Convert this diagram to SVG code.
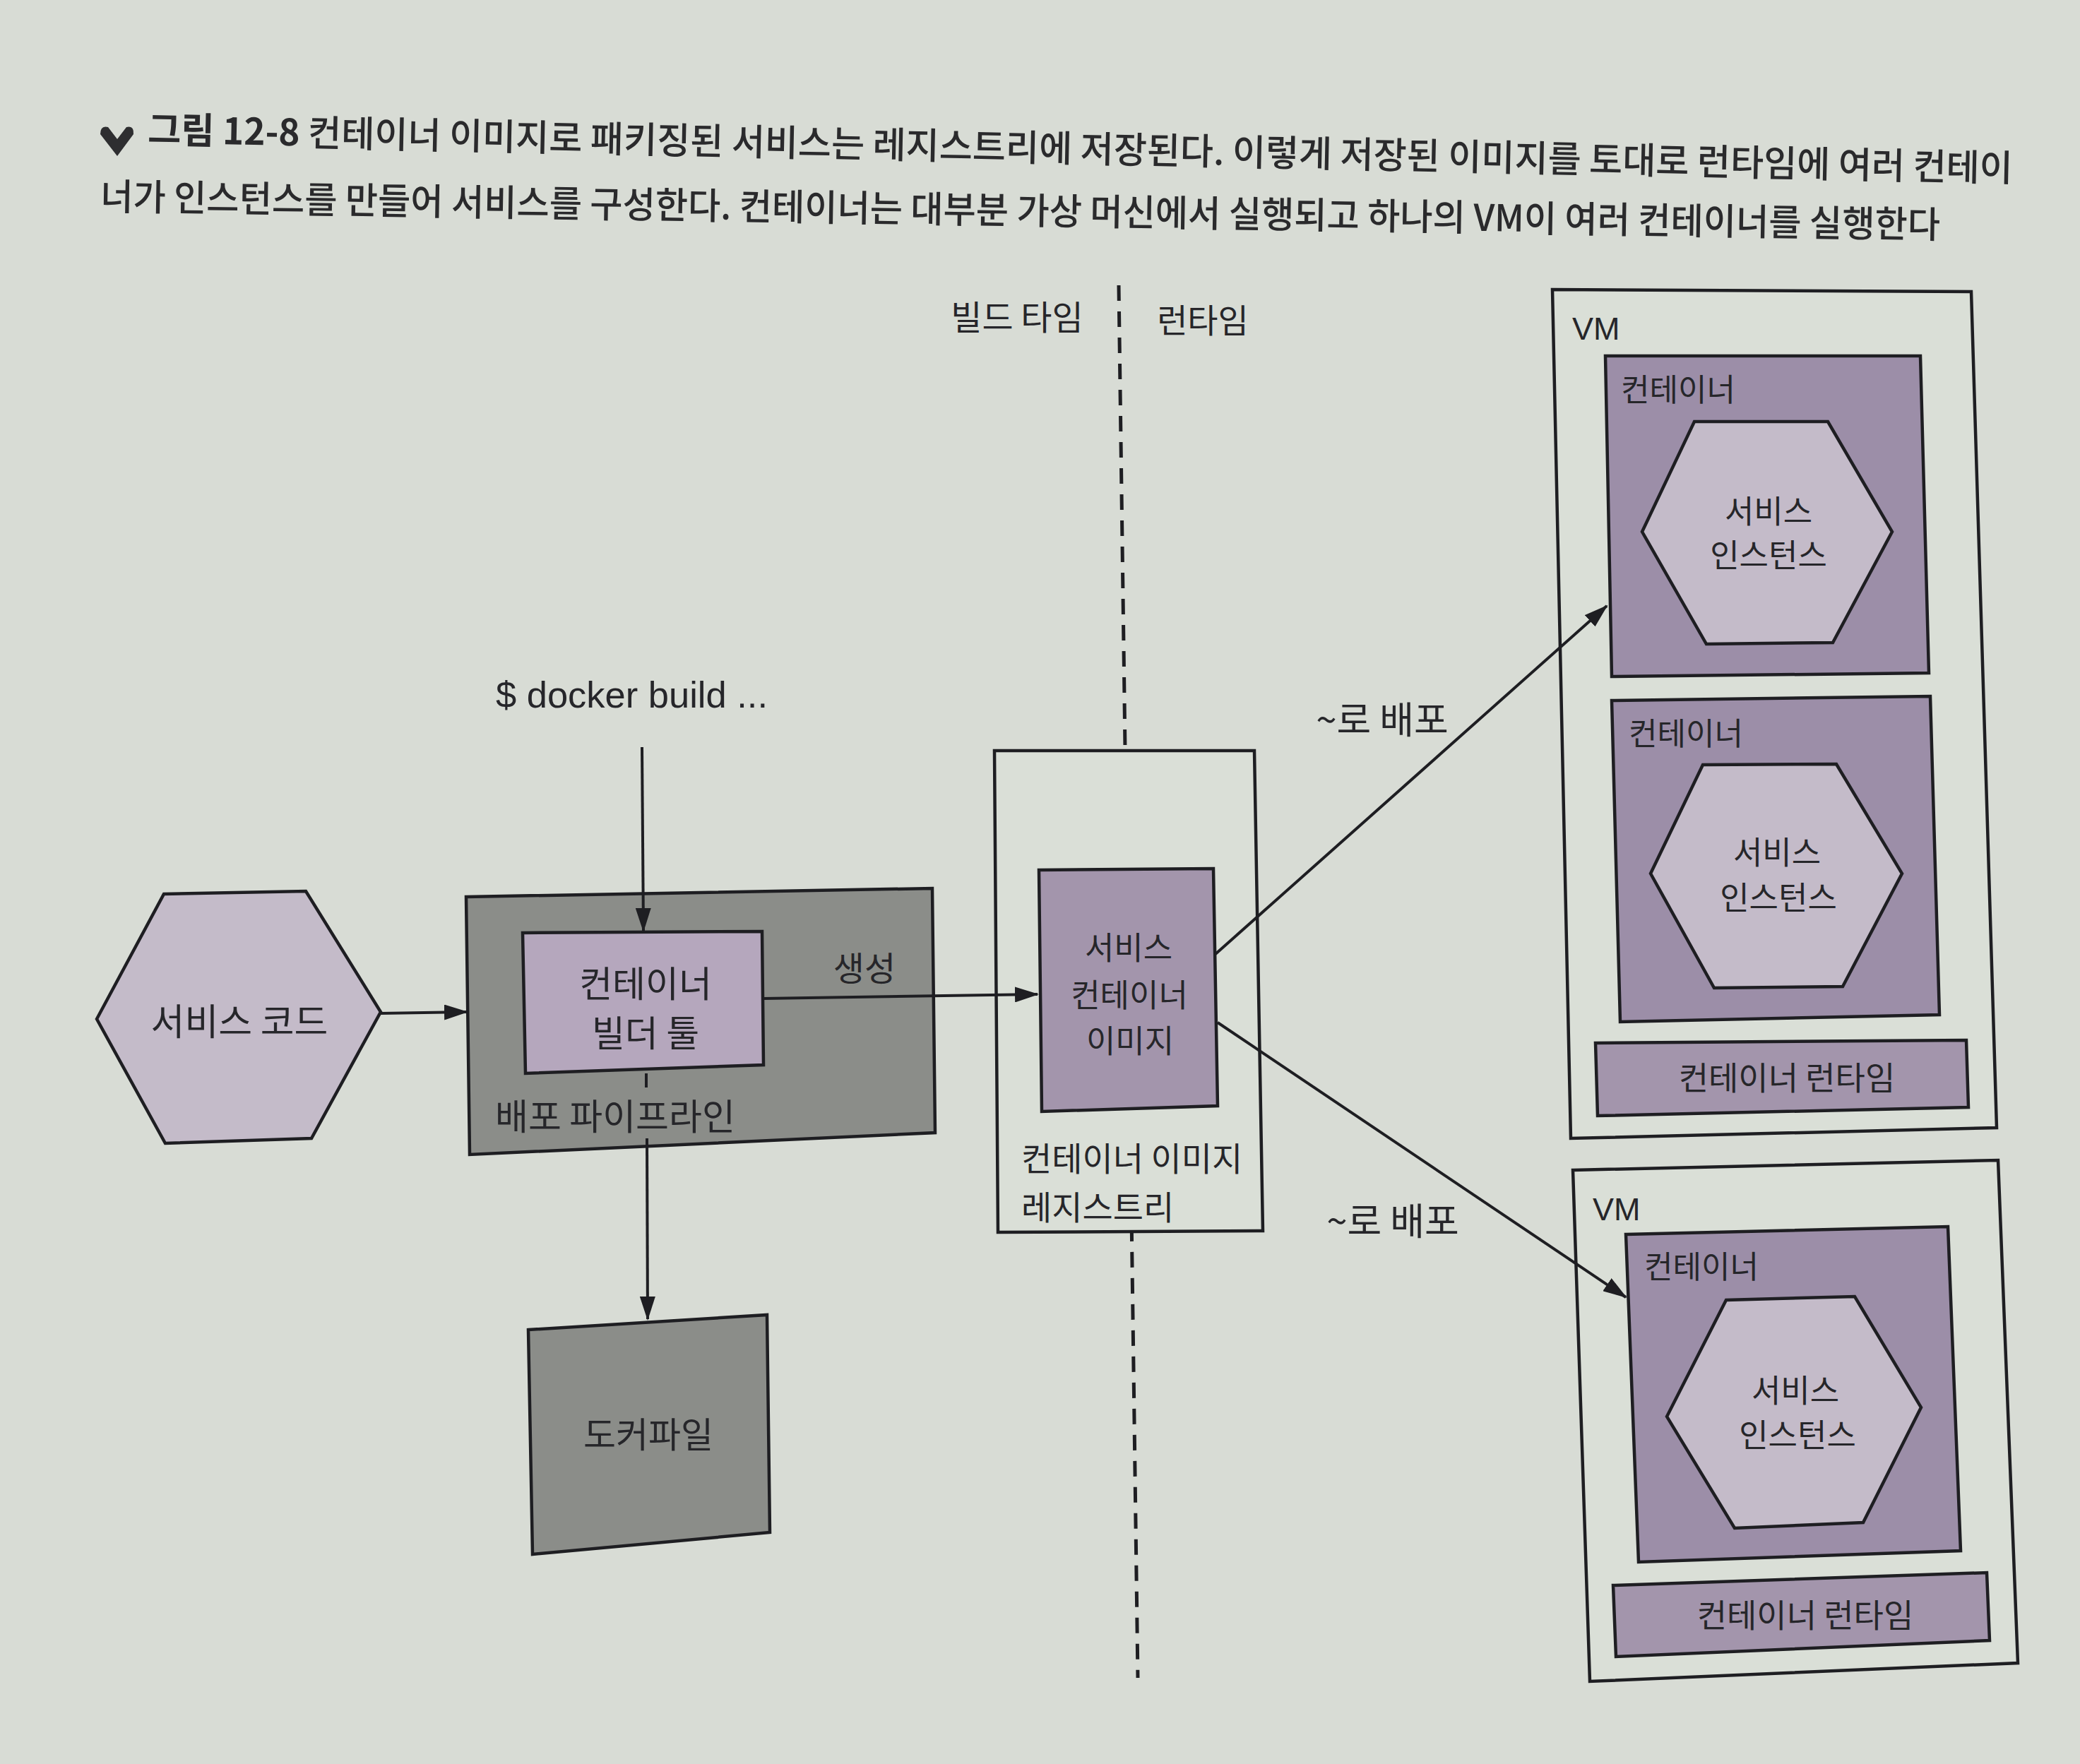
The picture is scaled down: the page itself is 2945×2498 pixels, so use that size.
<svg xmlns="http://www.w3.org/2000/svg" width="2945" height="2498" viewBox="0 0 2945 2498">
<defs>
<marker id="arr" markerUnits="userSpaceOnUse" markerWidth="34" markerHeight="22" refX="32" refY="11" orient="auto">
<path d="M0,0 L34,11 L0,22 Z" fill="#1e1e22"/>
</marker>
<style>
.t{font-family:"Noto Sans CJK KR","Noto Sans",sans-serif;fill:#26262a;}
.c{text-anchor:middle;dominant-baseline:central;}
.l{dominant-baseline:central;}
.cap{font-family:"Noto Sans CJK KR","Noto Sans",sans-serif;fill:#2a2a2c;font-size:52px;font-weight:500;}
.box{stroke:#1e1e22;stroke-width:4.5;stroke-linejoin:miter;}
.gray{fill:#8b8d89;}
.pale{fill:#dadfd7;}
.purple{fill:#9c8ea8;}
.lav{fill:#b5a7bd;}
.hex{fill:#c4bbc9;}
.img{fill:#a395ac;}
.conn{stroke:#1e1e22;stroke-width:4;fill:none;}
</style>
</defs>
<rect width="2945" height="2498" fill="#d8dcd5"/>

<g id="caption">
<path d="M142,190 Q142,177 153,180 L166,197 L179,180 Q190,177 189,190 L166,221 Z" fill="#2e2e30"/>
<text class="cap" x="209" y="202" transform="rotate(1.19 209 202)" textLength="2641" lengthAdjust="spacingAndGlyphs"><tspan font-weight="700">그림 12-8</tspan> 컨테이너 이미지로 패키징된 서비스는 레지스트리에 저장된다. 이렇게 저장된 이미지를 토대로 런타임에 여러 컨테이</text>
<text class="cap" x="142" y="297" transform="rotate(0.88 142 297)" textLength="2605" lengthAdjust="spacingAndGlyphs">너가 인스턴스를 만들어 서비스를 구성한다. 컨테이너는 대부분 가상 머신에서 실행되고 하나의 VM이 여러 컨테이너를 실행한다</text>
</g>

<g id="separator">
<line x1="1584" y1="404" x2="1611" y2="2376" stroke="#1e1e22" stroke-width="5" stroke-dasharray="22 15"/>
<text class="t c" x="1440" y="446" style="font-size:48px">빌드 타임</text>
<text class="t c" x="1703" y="450" style="font-size:47px">런타임</text>
</g>

<g id="docker-build-cmd">
<text x="702" y="1002" font-family="'Liberation Sans',Arial,sans-serif" font-size="52" fill="#26262a" textLength="385" lengthAdjust="spacingAndGlyphs">$ docker  build  ...</text>
</g>

<g id="service-code">
<polygon class="box hex" points="137,1443 232,1266 433,1262 539,1433 441,1612 234,1619"/>
<text class="t c" x="339" y="1443" style="font-size:52px">서비스 코드</text>
</g>

<g id="deploy-pipeline">
<polygon class="box gray" points="660,1270 1320,1258 1324,1604 665,1635"/>
<text class="t l" x="701" y="1578" style="font-size:51px">배포 파이프라인</text>
</g>

<g id="builder-tool">
<polygon class="box lav" points="740,1321 1079,1319 1081,1508 744,1520"/>
<text class="t c" x="914" y="1390" style="font-size:51px">컨테이너</text>
<text class="t c" x="914" y="1460" style="font-size:51px">빌더 툴</text>
</g>

<g id="dockerfile">
<polygon class="box gray" points="748,1883 1086,1862 1090,2170 754,2201"/>
<text class="t c" x="918" y="2028" style="font-size:50px">도커파일</text>
</g>

<g id="registry">
<polygon class="box pale" points="1408,1063 1776,1063 1788,1743 1413,1745"/>
<text class="t l" x="1446" y="1637" style="font-size:47px">컨테이너 이미지</text>
<text class="t l" x="1446" y="1706" style="font-size:47px">레지스트리</text>
</g>

<g id="service-image">
<polygon class="box img" points="1471,1232 1718,1230 1724,1566 1475,1574"/>
<text class="t c" x="1598" y="1339" style="font-size:45px">서비스</text>
<text class="t c" x="1599" y="1406" style="font-size:45px">컨테이너</text>
<text class="t c" x="1600" y="1471" style="font-size:45px">이미지</text>
</g>

<g id="vm1">
<polygon class="box pale" points="2198,410 2791,413 2827,1597 2224,1612"/>
<text x="2226" y="465" font-family="'Liberation Sans',Arial,sans-serif" font-size="45" fill="#26262a" dominant-baseline="central">VM</text>
</g>

<g id="vm1-container1">
<polygon class="box purple" points="2273,504 2719,504 2731,953 2282,958"/>
<text class="t l" x="2295" y="549" style="font-size:44px">컨테이너</text>
<polygon class="box hex" points="2325,753 2399,597 2588,597 2679,753 2595,910 2416,912"/>
<text class="t c" x="2504" y="721" style="font-size:45px">서비스</text>
<text class="t c" x="2504" y="783" style="font-size:45px">인스턴스</text>
</g>

<g id="vm1-container2">
<polygon class="box purple" points="2282,992 2733,986 2746,1437 2294,1447"/>
<text class="t l" x="2306" y="1036" style="font-size:44px">컨테이너</text>
<polygon class="box hex" points="2337,1237 2411,1083 2600,1082 2693,1237 2609,1397 2427,1399"/>
<text class="t c" x="2516" y="1204" style="font-size:45px">서비스</text>
<text class="t c" x="2518" y="1268" style="font-size:45px">인스턴스</text>
</g>

<g id="vm1-runtime">
<polygon class="box img" points="2259,1477 2784,1473 2787,1568 2262,1580"/>
<text class="t c" x="2530" y="1523" style="font-size:46px">컨테이너 런타임</text>
</g>

<g id="vm2">
<polygon class="box pale" points="2227,1657 2829,1643 2857,2355 2251,2381"/>
<text x="2255" y="1712" font-family="'Liberation Sans',Arial,sans-serif" font-size="45" fill="#26262a" dominant-baseline="central">VM</text>
</g>

<g id="vm2-container">
<polygon class="box purple" points="2302,1748 2758,1737 2776,2196 2320,2212"/>
<text class="t l" x="2328" y="1791" style="font-size:44px">컨테이너</text>
<polygon class="box hex" points="2360,2006 2444,1841 2626,1836 2720,1993 2638,2156 2456,2164"/>
<text class="t c" x="2542" y="1966" style="font-size:45px">서비스</text>
<text class="t c" x="2545" y="2029" style="font-size:45px">인스턴스</text>
</g>

<g id="vm2-runtime">
<polygon class="box img" points="2284,2245 2813,2227 2817,2323 2288,2346"/>
<text class="t c" x="2556" y="2284" style="font-size:46px">컨테이너 런타임</text>
</g>

<g id="connectors">
<line class="conn" x1="909" y1="1058" x2="911" y2="1318" marker-end="url(#arr)"/>
<line class="conn" x1="539" y1="1435" x2="661" y2="1433" marker-end="url(#arr)"/>
<line class="conn" x1="1081" y1="1414" x2="1469" y2="1408" marker-end="url(#arr)"/>
<text class="t c" x="1224" y="1368" style="font-size:48px">생성</text>
<line class="conn" x1="915" y1="1520" x2="915" y2="1540"/>
<line class="conn" x1="916" y1="1612" x2="917" y2="1868" marker-end="url(#arr)"/>
<line class="conn" x1="1721" y1="1351" x2="2275" y2="858" marker-end="url(#arr)"/>
<text class="t c" x="1957" y="1016" style="font-size:53px">~로 배포</text>
<line class="conn" x1="1724" y1="1448" x2="2302" y2="1837" marker-end="url(#arr)"/>
<text class="t c" x="1972" y="1726" style="font-size:53px">~로 배포</text>
</g>
</svg>
